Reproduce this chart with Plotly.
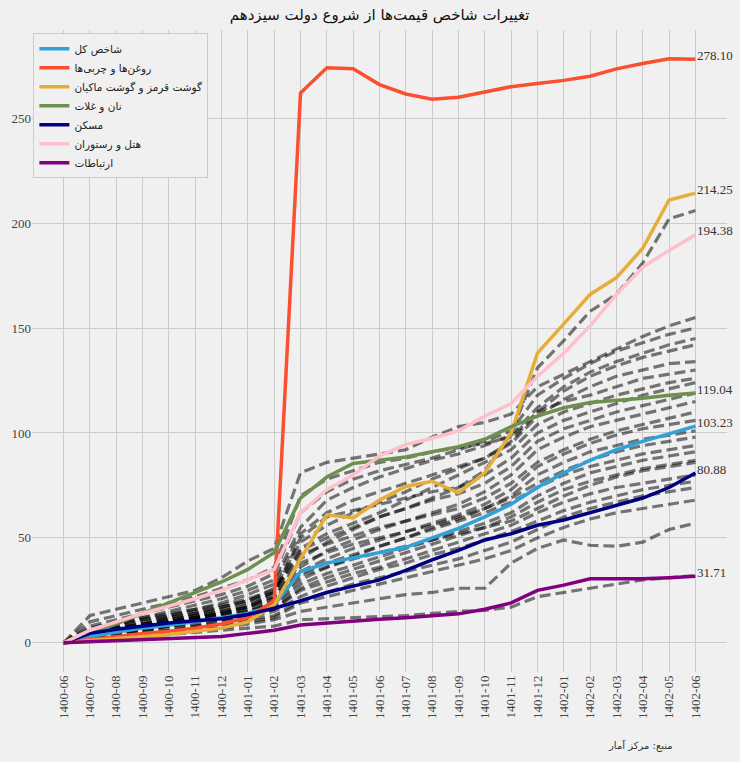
import plotly.graph_objects as go

categories = ["1400-06", "1400-07", "1400-08", "1400-09", "1400-10", "1400-11", "1400-12",
              "1401-01", "1401-02", "1401-03", "1401-04", "1401-05", "1401-06", "1401-07",
              "1401-08", "1401-09", "1401-10", "1401-11", "1401-12", "1402-01", "1402-02",
              "1402-03", "1402-04", "1402-05", "1402-06"]

total_index = [0, 3, 5, 7, 8.5, 10, 12, 14, 18, 34, 38, 40.5, 43, 45.5, 50, 54.5, 60, 66, 74, 81, 87, 92, 96, 99.5, 103.23]
oils_fats = [0, 1.5, 3, 4.5, 5.5, 7, 9, 12, 20, 262, 274, 273.5, 266, 261.5, 259, 260, 262.5, 265, 266.5, 268, 270, 273.5, 276, 278.3, 278.1]
meat = [0, 1, 2, 3, 4, 5.5, 7, 10, 18, 40, 61, 59.5, 68, 74.5, 77, 71.5, 81, 100, 138, 152, 166, 174, 188, 211, 214.25]
bread = [0, 4.5, 9, 14, 19, 24, 29, 35, 43, 69, 79, 85.5, 87, 88.5, 91, 93.5, 97, 103, 108, 112, 114.5, 115.5, 116.5, 118, 119.04]
housing = [0, 4.5, 6.5, 8, 9.5, 10.5, 11.5, 13.5, 16.5, 20, 24, 27, 30, 34.5, 39.5, 44, 49, 52, 56, 58.5, 62, 65.5, 69, 74, 80.88]
hotel = [0, 6, 10, 14, 17.5, 21, 25, 30, 35, 62, 73, 80, 89, 94.5, 97.5, 101, 108, 114, 127, 138, 151, 166, 179, 187, 194.38]
telecom = [0, 0.5, 1, 1.5, 2, 2.5, 3, 4.5, 6, 8.5, 9.5, 10.5, 11.2, 12, 12.8, 13.8, 16, 19, 25, 27.5, 30.5, 30.5, 30.5, 31, 31.71]

series_names = ["شاخص کل", "روغن‌ها و چربی‌ها", "گوشت قرمز و گوشت ماکیان", "نان و غلات",
                "مسکن", "هتل و رستوران", "ارتباطات"]
series_values = [total_index, oils_fats, meat, bread, housing, hotel, telecom]
series_colors = ["#30a2da", "#fc4f30", "#e5ae38", "#6d904f", "#000080", "#ffc0cb", "#800080"]

other_groups = [
    [0, 3, 6, 8, 10, 12, 14, 17, 24, 50, 60, 63, 66, 69, 72, 74, 82, 100, 131, 144, 158, 166, 181, 202, 206],
    [0, 13, 16, 19, 22, 25, 31, 39, 45, 81, 86, 88, 90, 92, 98, 103, 105, 109, 122, 128, 134, 140, 146, 151, 155],
    [0, 8, 11, 14, 17, 20, 23, 27, 33, 62, 72, 78, 82, 85, 88, 92, 96, 101, 118, 126, 133, 139, 143, 147, 150],
    [0, 6, 9, 12, 15, 18, 21, 25, 30, 55, 68, 74, 79, 83, 87, 90, 94, 99, 112, 122, 129, 134, 138, 142, 145],
    [0, 10, 13, 16, 19, 22, 26, 30, 36, 70, 78, 82, 86, 88, 91, 93, 95, 98, 110, 120, 127, 132, 136, 139, 142],
    [0, 5, 8, 11, 13, 16, 19, 23, 28, 52, 62, 68, 72, 76, 80, 84, 88, 95, 108, 116, 122, 127, 130, 133, 134],
    [0, 4, 7, 9, 12, 14, 17, 20, 26, 48, 56, 62, 67, 72, 78, 83, 88, 96, 110, 115, 118, 122, 126, 128, 130],
    [0, 7, 10, 12, 14, 16, 18, 21, 25, 45, 52, 57, 62, 68, 74, 80, 86, 92, 104, 110, 114, 118, 121, 124, 126],
    [0, 3, 6, 8, 10, 12, 14, 17, 22, 40, 48, 54, 60, 64, 69, 74, 80, 88, 100, 106, 110, 114, 118, 121, 124],
    [0, 5, 8, 10, 12, 14, 16, 19, 24, 44, 50, 55, 60, 64, 68, 71, 76, 84, 96, 102, 106, 110, 113, 116, 119],
    [0, 4, 6, 8, 10, 12, 14, 16, 20, 36, 44, 49, 54, 58, 62, 66, 72, 80, 92, 98, 103, 106, 109, 112, 115],
    [0, 6, 9, 11, 13, 15, 17, 20, 24, 42, 47, 51, 55, 58, 61, 64, 69, 76, 86, 92, 97, 101, 104, 107, 110],
    [0, 3, 5, 7, 9, 11, 13, 15, 19, 34, 40, 45, 49, 53, 57, 61, 66, 73, 84, 90, 95, 99, 102, 104, 106],
    [0, 2, 4, 6, 8, 10, 12, 14, 18, 30, 36, 41, 46, 50, 55, 59, 64, 70, 80, 86, 91, 94, 97, 99, 101],
    [0, 4, 7, 9, 11, 13, 15, 18, 22, 38, 43, 47, 50, 53, 56, 60, 64, 69, 76, 82, 87, 91, 94, 96, 98],
    [0, 5, 7, 9, 11, 13, 15, 17, 21, 33, 38, 42, 46, 50, 54, 58, 62, 67, 74, 80, 84, 87, 90, 92, 94],
    [0, 3, 5, 7, 9, 11, 12, 14, 17, 28, 33, 37, 41, 45, 49, 53, 57, 62, 70, 76, 81, 84, 87, 89, 91],
    [0, 2, 4, 6, 8, 9, 11, 13, 16, 26, 31, 35, 39, 43, 47, 51, 55, 60, 67, 73, 77, 80, 83, 85, 87],
    [0, 4, 6, 8, 10, 12, 13, 15, 19, 32, 36, 40, 43, 46, 49, 52, 55, 58, 64, 70, 75, 79, 82, 84, 86],
    [0, 3, 5, 6, 8, 10, 11, 13, 16, 25, 29, 33, 36, 40, 44, 48, 52, 56, 62, 67, 71, 74, 76, 78, 80],
    [0, 2, 3, 5, 7, 8, 10, 12, 15, 22, 27, 31, 35, 38, 42, 45, 49, 53, 58, 63, 67, 70, 73, 75, 77],
    [0, 2, 4, 5, 6, 8, 9, 11, 13, 20, 24, 28, 31, 34, 37, 40, 44, 48, 54, 60, 64, 67, 70, 72, 74],
    [0, 1, 3, 4, 5, 7, 8, 10, 12, 19, 22, 25, 28, 31, 34, 37, 40, 44, 50, 55, 59, 62, 64, 66, 68],
    [0, 2, 3, 4, 5, 6, 7, 9, 11, 15, 17, 19, 21, 23, 24, 26, 26, 38, 45, 49, 46.5, 46, 48, 54, 57],
    [0, 1, 2, 3, 4, 5, 6, 7, 8, 11, 11.5, 12, 12.5, 13, 14, 15, 15.5, 17, 22, 24, 26, 28, 30, 31, 32],
]

y_ticks = [0, 50, 100, 150, 200, 250]

title_text = "تغییرات شاخص قیمت‌ها از شروع دولت سیزدهم"
source_text = "منبع: مرکز آمار"

x_idx = list(range(len(categories)))
serif = "Liberation Serif, Times New Roman, serif"

fig = go.Figure()

for vals in other_groups:
    fig.add_trace(go.Scatter(
        x=x_idx, y=vals, mode="lines", showlegend=False, hoverinfo="skip",
        line=dict(color="rgba(0,0,0,0.52)", width=3.2, dash="11px,5px"),
    ))

for name, vals, col in zip(series_names, series_values, series_colors):
    fig.add_trace(go.Scatter(
        x=x_idx, y=vals, mode="lines", name=name,
        line=dict(color=col, width=3.5),
    ))
    fig.add_annotation(
        x=x_idx[-1], y=vals[-1], text=f"{vals[-1]:.2f}", showarrow=False,
        xanchor="left", yanchor="middle", xshift=0, yshift=4,
        font=dict(family=serif, size=13, color="#333333"),
    )

fig.add_annotation(
    xref="paper", yref="paper", x=0.875, y=-0.115, text=source_text, showarrow=False,
    xanchor="center", yanchor="middle",
    font=dict(family="DejaVu Sans", size=10, color="#333333"),
)

fig.update_layout(
    width=740, height=762,
    margin=dict(l=32, r=13, t=30, b=90, autoexpand=False),
    paper_bgcolor="#f0f0f0", plot_bgcolor="#f0f0f0",
    title=dict(text=title_text, x=0.513, xanchor="center", y=0.981, yanchor="middle",
               yref="container", font=dict(family="DejaVu Sans", size=15, color="#111111")),
    legend=dict(x=0.002, y=0.995, xanchor="left", yanchor="top",
                bgcolor="#f0f0f0", bordercolor="#cccccc", borderwidth=1,
                font=dict(family="DejaVu Sans", size=10.5, color="#222222"),
                tracegroupgap=0, itemwidth=30),
    xaxis=dict(range=[-1.2, 25.2], tickmode="array", tickvals=x_idx, ticktext=categories,
               tickangle=-90, showgrid=True, gridcolor="#cbcbcb", gridwidth=1,
               zeroline=False, showline=False, ticks="", automargin=False,
               tickfont=dict(family=serif, size=13, color="#444444")),
    yaxis=dict(range=[-13.9, 292], tickmode="array", tickvals=y_ticks,
               showgrid=True, gridcolor="#cbcbcb", gridwidth=1,
               zeroline=False, showline=False, ticks="", automargin=False,
               tickfont=dict(family=serif, size=13, color="#444444")),
)

fig.write_html(
    "out.html",
    config={"displayModeBar": False},
    post_script="document.body.style.margin='0';document.body.style.background='#f0f0f0';",
)
